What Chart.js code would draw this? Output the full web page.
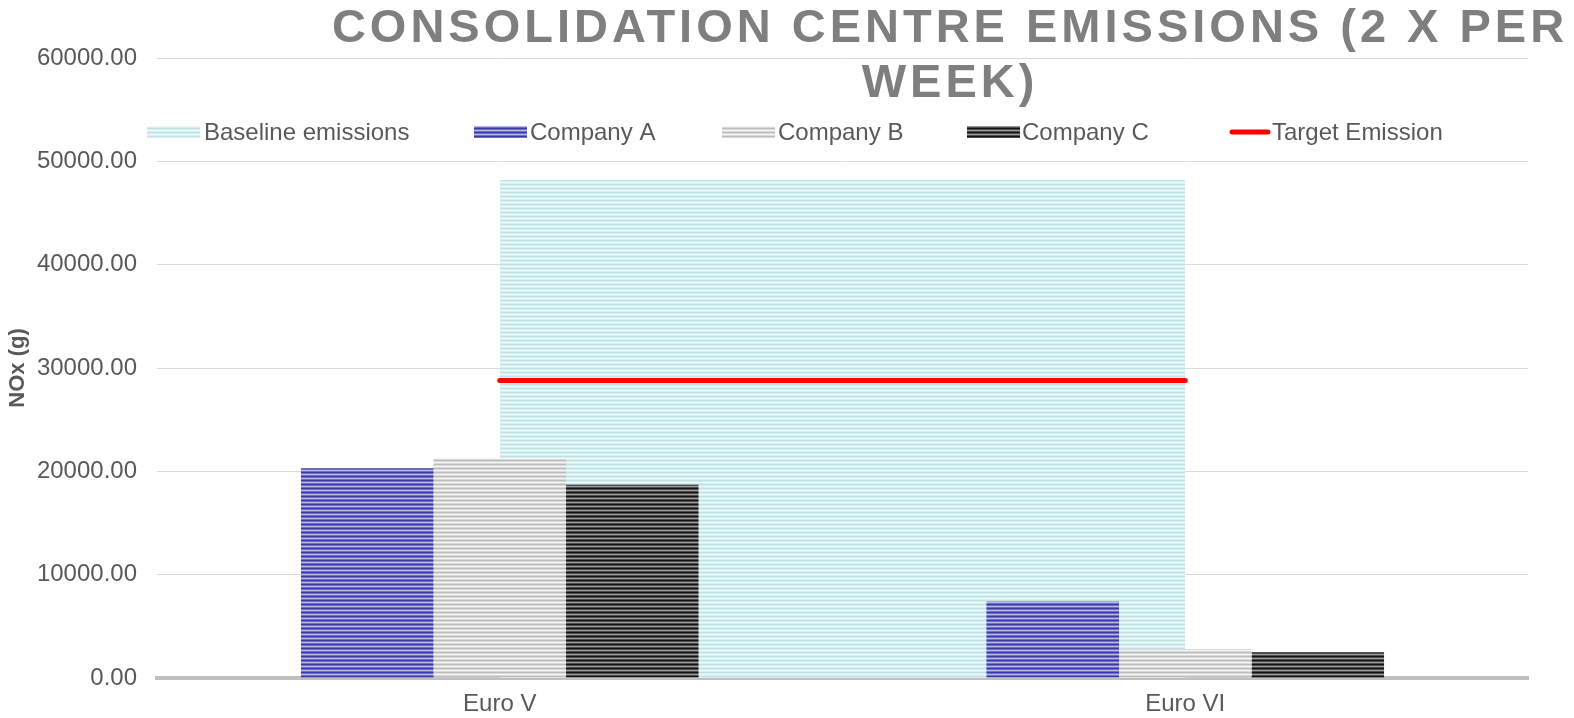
<!DOCTYPE html>
<html>
<head>
<meta charset="utf-8">
<script src="https://cdn.jsdelivr.net/npm/chart.js@4.4.0/dist/chart.umd.min.js"></script>
<style>
  html, body { margin: 0; padding: 0; background: #fff; }
  #wrap { width: 1574px; height: 718px; position: relative; }
</style>
</head>
<body>
<div id="wrap"><canvas id="chart" width="1574" height="718"></canvas></div>
<script>
const categories = ['Euro V', 'Euro VI'];
const baseline = [48200, 48200];
const companyA = [20300, 7400];
const companyB = [21300, 2800];
const companyC = [18700, 2500];
const target = [28800, 28800];
const yTicks = [0, 10000, 20000, 30000, 40000, 50000, 60000];

const titleLines = ['CONSOLIDATION CENTRE EMISSIONS (2 X PER', 'WEEK)'];

// horizontal stripe fill like the excel pattern
function stripes(colors) {
    const c = document.createElement('canvas');
    c.width = 4;
    c.height = colors.length;
    const g = c.getContext('2d');
    colors.forEach((col, i) => {
        g.fillStyle = col;
        g.fillRect(0, i, 4, 1);
    });
    return g.createPattern(c, 'repeat');
}

const cyanFill = stripes(['#bfe2e5', '#d8eef0', '#eff8f9', '#d8eef0']);
const blueFill = stripes(['#3a3aa2', '#6e6ec6', '#b9b9e8', '#6e6ec6']);
const grayFill = stripes(['#bdbdbd', '#d9d9d9', '#f6f6f6', '#d9d9d9']);
const blackFill = stripes(['#121212', '#4e4e4e', '#9a9a9a', '#4e4e4e']);

const FONT = '"Liberation Sans", Arial, sans-serif';

// title and legend sit over the plot area, as in the original
const overlay = {
    id: 'overlay',
    afterDraw(chart) {
        const ctx = chart.ctx;
        ctx.save();
        ctx.fillStyle = '#7f7f7f';
        ctx.font = 'bold 47px ' + FONT;
        ctx.letterSpacing = '4px';
        ctx.textAlign = 'center';
        ctx.textBaseline = 'alphabetic';
        ctx.fillText(titleLines[0], 950, 42);
        ctx.fillText(titleLines[1], 950, 97);
        ctx.letterSpacing = '0px';

        const items = [
            { ds: 0, box: 147, text: 204 },
            { ds: 1, box: 474, text: 530 },
            { ds: 2, box: 722, text: 778 },
            { ds: 3, box: 967, text: 1022 },
            { ds: 4, box: 1232, text: 1272, line: true }
        ];
        const y = 132;
        ctx.font = '24px ' + FONT;
        ctx.textAlign = 'left';
        ctx.textBaseline = 'middle';
        items.forEach(it => {
            const ds = chart.data.datasets[it.ds];
            if (it.line) {
                ctx.strokeStyle = ds.borderColor;
                ctx.lineWidth = 5;
                ctx.lineCap = 'round';
                ctx.beginPath();
                ctx.moveTo(it.box, y);
                ctx.lineTo(it.box + 36, y);
                ctx.stroke();
            } else {
                ctx.fillStyle = ds.backgroundColor;
                ctx.fillRect(it.box, y - 6, 53, 12);
            }
            ctx.fillStyle = '#595959';
            ctx.fillText(ds.label, it.text, y + 1);
        });
        ctx.restore();
    }
};

new Chart(document.getElementById('chart'), {
    type: 'bar',
    data: {
        labels: categories,
        datasets: [
            {
                type: 'line',
                label: 'Baseline emissions',
                data: baseline,
                backgroundColor: cyanFill,
                borderWidth: 0,
                pointRadius: 0,
                fill: 'origin',
                order: 10
            },
            { label: 'Company A', data: companyA, backgroundColor: blueFill, order: 5 },
            { label: 'Company B', data: companyB, backgroundColor: grayFill, order: 5 },
            { label: 'Company C', data: companyC, backgroundColor: blackFill, order: 5 },
            {
                type: 'line',
                label: 'Target Emission',
                data: target,
                borderColor: '#ff0000',
                borderWidth: 5,
                borderCapStyle: 'round',
                pointRadius: 0,
                fill: false,
                order: 0
            }
        ]
    },
    options: {
        responsive: false,
        animation: false,
        devicePixelRatio: 1,
        layout: { padding: { top: 58, right: 46, left: 0, bottom: 0 } },
        datasets: {
            bar: { categoryPercentage: 0.58, barPercentage: 1.0 }
        },
        plugins: {
            legend: { display: false },
            title: { display: false },
            tooltip: { enabled: false }
        },
        scales: {
            x: {
                grid: { display: false, drawTicks: false },
                border: { display: true, color: '#bfbfbf', width: 4 },
                ticks: {
                    color: '#595959',
                    font: { family: FONT, size: 24 },
                    padding: 12
                },
                afterFit(scale) { scale.height = 40; }
            },
            y: {
                min: 0,
                max: 60000,
                afterBuildTicks(scale) {
                    scale.ticks = yTicks.map(v => ({ value: v }));
                },
                grid: { color: '#d9d9d9', lineWidth: 1, drawTicks: false },
                border: { display: false },
                ticks: {
                    color: '#595959',
                    font: { family: FONT, size: 24 },
                    padding: 20,
                    callback: v => v.toFixed(2)
                },
                title: {
                    display: true,
                    text: 'NOx (g)',
                    color: '#595959',
                    font: { family: FONT, size: 22, weight: 'bold' },
                    padding: { top: 5, bottom: 0 }
                },
                afterFit(scale) { scale.width = 157; }
            }
        }
    },
    plugins: [overlay]
});
</script>
</body>
</html>
